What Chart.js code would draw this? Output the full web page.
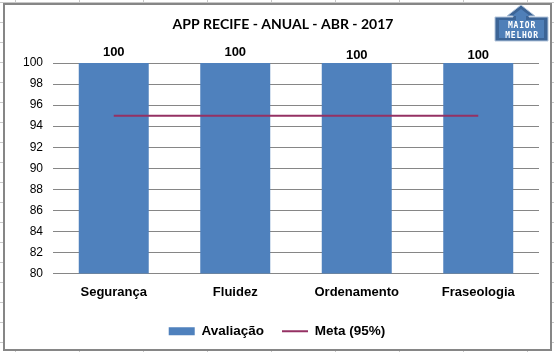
<!DOCTYPE html>
<html>
<head>
<meta charset="utf-8">
<script src="https://cdn.jsdelivr.net/npm/chart.js@4"></script>
<style>
  html, body { margin: 0; padding: 0; }
  body {
    width: 554px; height: 352px; overflow: hidden; position: relative; background-color: #fff;
    background-image:
      linear-gradient(to right, #c8c8c8 1px, transparent 1px),
      linear-gradient(to bottom, #c8c8c8 1px, transparent 1px);
    background-size: 64px 100%, 100% 20px;
    background-position: 15px 0, 0 2px;
  }
  #frame {
    position: absolute; left: 3px; top: 3px; width: 545px; height: 344px;
    border: 2px solid #868686; background: #fff;
  }
  canvas { position: absolute; left: 0; top: 0; }
</style>
</head>
<body>
<div id="frame"></div>
<canvas id="chart" width="554" height="352"></canvas>
<script>
const categories = ["Segurança", "Fluidez", "Ordenamento", "Fraseologia"];
const avaliacao = [100, 100, 100, 100];
const meta = [95, 95, 95, 95];
const yTicks = [80, 82, 84, 86, 88, 90, 92, 94, 96, 98, 100];
const labelLift = [11, 11, 8, 8];

const FONT = "'Liberation Sans', Arial, sans-serif";

function badgePath(ctx) {
  ctx.beginPath();
  ctx.moveTo(521, 5);
  ctx.lineTo(535, 16);
  ctx.lineTo(529, 16);
  ctx.lineTo(529, 17);
  ctx.lineTo(548, 17);
  ctx.lineTo(548, 41);
  ctx.lineTo(495, 41);
  ctx.lineTo(495, 17);
  ctx.lineTo(513, 17);
  ctx.lineTo(513, 16);
  ctx.lineTo(507, 16);
  ctx.closePath();
}

// title, value labels and the "maior melhor" badge
const extras = {
  id: "extras",
  afterDatasetsDraw(chart) {
    const ctx = chart.ctx;
    const bars = chart.getDatasetMeta(0).data;
    ctx.save();
    ctx.fillStyle = "#000";
    ctx.textAlign = "center";
    ctx.textBaseline = "middle";
    ctx.font = "bold 14px Lato, sans-serif";
    ctx.fillText("APP RECIFE - ANUAL - ABR - 2017", 283, 24);
    ctx.font = "bold 13px " + FONT;
    bars.forEach((bar, i) => {
      ctx.fillText(String(avaliacao[i]), bar.x, bar.y - labelLift[i]);
    });

    // badge
    badgePath(ctx);
    ctx.fillStyle = "#3c6496";
    ctx.strokeStyle = "#b4c6dc";
    ctx.lineWidth = 1;
    ctx.fill();
    ctx.stroke();
    ctx.fillStyle = "#4f7fb8";
    ctx.fillRect(499, 20, 45, 18);
    ctx.beginPath();
    ctx.moveTo(521, 9);
    ctx.lineTo(530, 16);
    ctx.lineTo(526, 16);
    ctx.lineTo(526, 20);
    ctx.lineTo(516, 20);
    ctx.lineTo(516, 16);
    ctx.lineTo(512, 16);
    ctx.closePath();
    ctx.fill();
    ctx.fillStyle = "#fff";
    ctx.font = "bold 8px 'DejaVu Sans Mono', monospace";
    ctx.letterSpacing = "0.8px";
    ctx.fillText("MAIOR", 522, 25.5);
    ctx.fillText("MELHOR", 522, 36);
    ctx.restore();
  }
};

new Chart(document.getElementById("chart").getContext("2d"), {
  data: {
    labels: categories,
    datasets: [
      {
        type: "bar",
        label: "Avaliação",
        data: avaliacao,
        backgroundColor: "#4f81bd",
        borderWidth: 0,
        categoryPercentage: 1,
        barPercentage: 0.576,
        pointStyle: "rect",
        order: 1,
      },
      {
        type: "line",
        label: "Meta (95%)",
        data: meta,
        borderColor: "#953163",
        backgroundColor: "#953163",
        borderWidth: 2,
        pointRadius: 0,
        pointStyle: "line",
        order: 0,
      },
    ],
  },
  options: {
    responsive: false,
    animation: false,
    layout: { padding: { left: 15, right: 15, top: 63, bottom: 4 } },
    plugins: {
      title: { display: false },
      tooltip: { enabled: false },
      legend: {
        position: "bottom",
        labels: {
          usePointStyle: true,
          pointStyleWidth: 26,
          boxHeight: 8,
          padding: 18,
          color: "#000",
          font: { family: FONT, size: 13.5, weight: "bold" },
          sort: (a, b) => a.datasetIndex - b.datasetIndex,
        },
      },
    },
    scales: {
      x: {
        grid: { display: false },
        border: { display: false },
        ticks: {
          color: "#000",
          padding: 3,
          maxRotation: 0,
          autoSkip: false,
          font: { family: FONT, size: 13, weight: "bold" },
        },
        afterFit(scale) { scale.height = 33; },
      },
      y: {
        min: 80,
        max: 100,
        afterBuildTicks(scale) { scale.ticks = yTicks.map((v) => ({ value: v })); },
        grid: { color: "#868686", lineWidth: 1, drawTicks: false },
        border: { display: false },
        ticks: {
          color: "#000",
          padding: 10,
          font: { family: FONT, size: 12 },
        },
        afterFit(scale) { scale.width = 38; },
      },
    },
  },
  plugins: [extras],
});
</script>
</body>
</html>
